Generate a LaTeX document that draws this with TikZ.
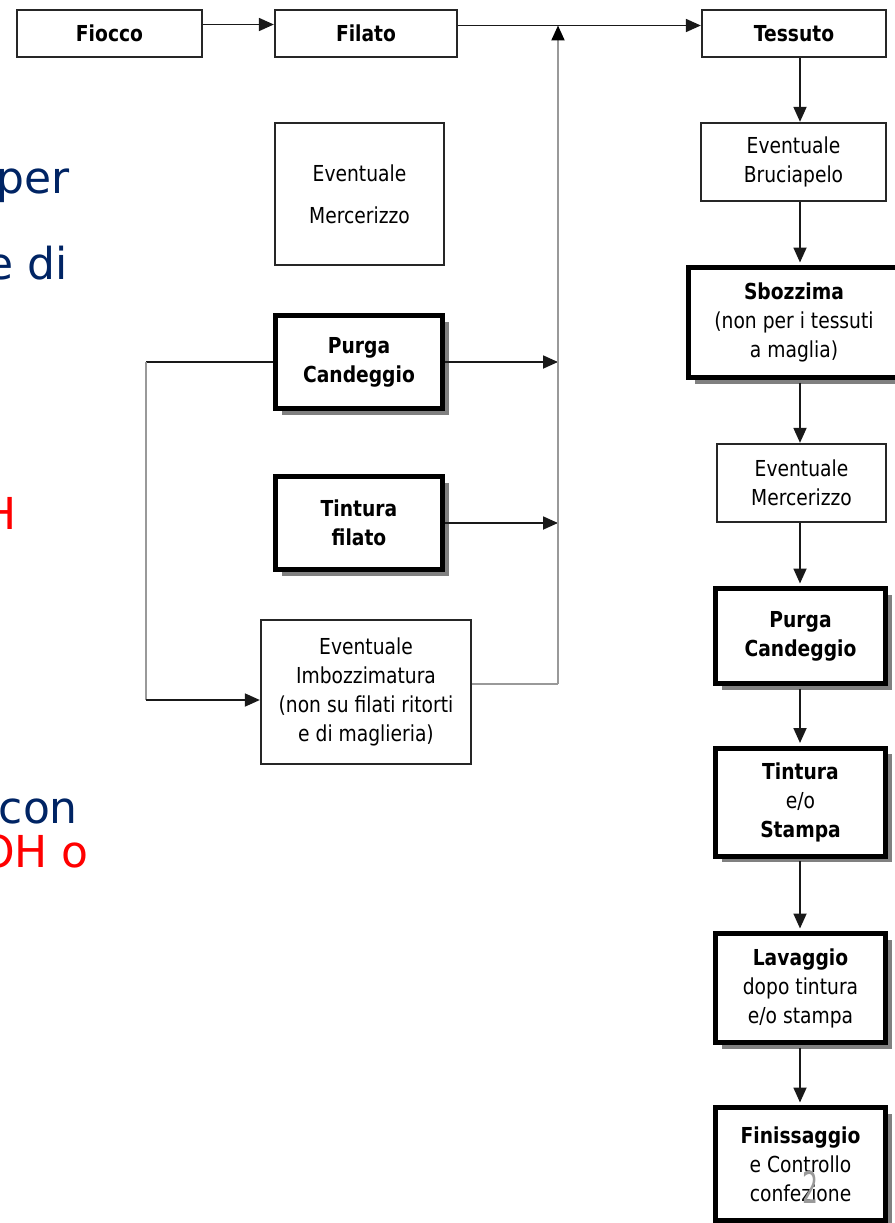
\documentclass[tikz,border=0pt]{standalone}
\usepackage{fontspec}
\usepackage{xcolor}
\usetikzlibrary{arrows.meta,shadows,positioning}

\newfontfamily\diagfont[FakeStretch=0.85]{DejaVu Sans}
\newfontfamily\slidefont{DejaVu Sans}
\newcommand{\diagsize}{\diagfont\fontsize{22}{29}\selectfont}
\newcommand{\slidesize}{\slidefont\fontsize{44}{50}\selectfont}

\definecolor{slidenavy}{RGB}{0,36,100}
\definecolor{slidered}{RGB}{255,0,0}

\tikzset{
	thinbox/.style={draw=black!85, line width=1.8pt, fill=white, align=center, inner sep=0pt, font=\diagsize},
	thickbox/.style={draw=black, line width=5pt, fill=white, align=center, inner sep=0pt, font=\diagsize,
		drop shadow={shadow xshift=6pt, shadow yshift=-6pt, fill=black!50, opacity=1}},
	flow/.style={-{Triangle[length=15pt,width=13pt]}, line width=1.8pt, draw=black!90},
	greyline/.style={line width=2.2pt, draw=black!40},
	fragment/.style={anchor=base east, inner sep=0pt, font=\slidesize},
}

\begin{document}
\begin{tikzpicture}[x=1pt, y=-1pt]
	\useasboundingbox (0,0) rectangle (894,1223);

	% cut-off slide text at the left edge
	\node[fragment, text=slidenavy](frag per) at (70,193) {per};
	\node[fragment, text=slidenavy](frag di) at (68,279) {e di};
	\node[fragment, text=slidered](frag h) at (17,529) {H};
	\node[fragment, text=slidenavy](frag con) at (78,823) {con};
	\node[fragment, text=slidered](frag oh) at (89,867) {OH o};
	\node[fragment, text=slidenavy](frag dot) at (3,984) {.};

	% top row
	\node[thinbox, minimum width=185.5pt, minimum height=47.5pt](fiocco) at (109.5,33.5) {\bfseries Fiocco};
	\node[thinbox, minimum width=182.5pt, minimum height=47.5pt](filato) at (366,33.5) {\bfseries Filato};
	\node[thinbox, minimum width=184.5pt, minimum height=47.5pt](tessuto) at (794,33.5) {\bfseries Tessuto};

	% yarn treatments
	\node[thinbox, minimum width=169.5pt, minimum height=142.5pt](merc yarn) at (359.5,194) {Eventuale\\[13pt]Mercerizzo};
	\node[thickbox, minimum width=167pt, minimum height=93pt](purga yarn) at (359,362) {\bfseries Purga\\\bfseries Candeggio};
	\node[thickbox, minimum width=167pt, minimum height=93pt](tintura yarn) at (359,523) {\bfseries Tintura\\\bfseries filato};
	\node[thinbox, minimum width=210.5pt, minimum height=144.5pt](imbo) at (366,692) {Eventuale\\Imbozzimatura\\(non su filati ritorti\\e di maglieria)};

	% fabric treatments
	\node[thinbox, minimum width=185.5pt, minimum height=78.5pt](brucia) at (793.5,162) {Eventuale\\Bruciapelo};
	\node[thickbox, minimum width=211pt, minimum height=110pt](sbozz) at (794,322.5) {\bfseries Sbozzima\\(non per i tessuti\\a maglia)};
	\node[thinbox, minimum width=169.5pt, minimum height=78.5pt](merc fabric) at (801.5,483) {Eventuale\\Mercerizzo};
	\node[thickbox, minimum width=170pt, minimum height=95pt](purga fabric) at (800.5,636) {\bfseries Purga\\\bfseries Candeggio};
	\node[thickbox, minimum width=170pt, minimum height=108pt](tintura fabric) at (800.5,802) {\bfseries Tintura\\e/o\\\bfseries Stampa};
	\node[thickbox, minimum width=170pt, minimum height=109pt](lavaggio) at (800.5,988) {\bfseries Lavaggio\\dopo tintura\\e/o stampa};
	\node[thickbox, minimum width=170pt, minimum height=113pt](finiss) at (800.5,1164) {\bfseries Finissaggio\\e Controllo\\confezione};

	\node[text=black!40, xscale=0.57, inner sep=0pt, font=\slidesize](page) at (810,1187) {2};

	\coordinate (axis) at (800,0);
	\coordinate (merge top) at (558,25.5);
	\coordinate (merge bottom) at (558,684);
	\coordinate (loop top) at (146,362);
	\coordinate (loop bottom) at (146,700);

	\draw[flow] ([yshift=9pt]fiocco.east) -- ([yshift=9pt]filato.west);
	\draw[flow] ([yshift=8pt]filato.east) -- ([yshift=8pt]tessuto.west);
	\draw[flow] (purga yarn.east) -- (purga yarn.east -| merge top);
	\draw[flow] (tintura yarn.east) -- (tintura yarn.east -| merge top);
	\draw[greyline] ([yshift=8pt]imbo.east) -- (merge bottom);
	\draw[greyline, -{Triangle[length=15pt,width=13pt,black]}] (merge bottom) -- (merge top);

	\draw[line width=1.8pt, draw=black!90] (purga yarn.west) -- (loop top);
	\draw[greyline] (loop top) -- (loop bottom);
	\draw[flow] (loop bottom) -- (loop bottom -| imbo.west);

	\draw[flow] (tessuto.south -| axis) -- (brucia.north -| axis);
	\draw[flow] (brucia.south -| axis) -- ([yshift=2.5pt]sbozz.north -| axis);
	\draw[flow] ([yshift=-2.5pt]sbozz.south -| axis) -- (merc fabric.north -| axis);
	\draw[flow] (merc fabric.south -| axis) -- ([yshift=2.5pt]purga fabric.north -| axis);
	\draw[flow] ([yshift=-2.5pt]purga fabric.south -| axis) -- ([yshift=2.5pt]tintura fabric.north -| axis);
	\draw[flow] ([yshift=-2.5pt]tintura fabric.south -| axis) -- ([yshift=2.5pt]lavaggio.north -| axis);
	\draw[flow] ([yshift=-2.5pt]lavaggio.south -| axis) -- ([yshift=2.5pt]finiss.north -| axis);
\end{tikzpicture}
\end{document}
